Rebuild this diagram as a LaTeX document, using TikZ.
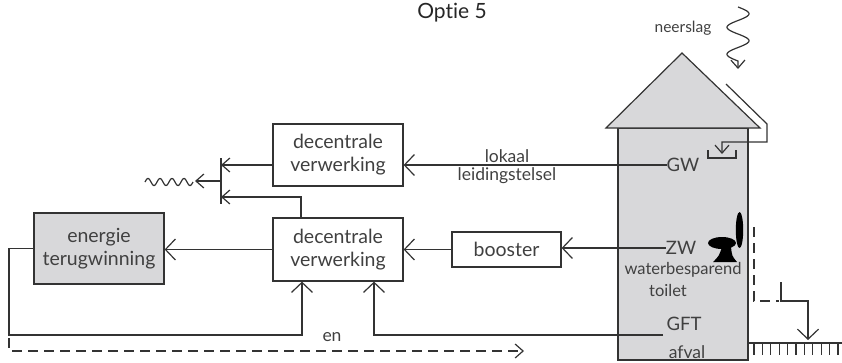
\documentclass[tikz,border=0pt]{standalone}
\usepackage{fontspec}
\setmainfont{Lato}[Ligatures={CommonOff}]
\usetikzlibrary{arrows.meta}
\definecolor{ink}{HTML}{333333}
\definecolor{txt}{HTML}{404040}
\definecolor{shade}{HTML}{D8D8DA}
\begin{document}
\begin{tikzpicture}[x=1pt,y=-1pt,
  flow/.style={draw=ink, line width=1.2pt},
  arr/.style={flow, -{Straight Barb[length=10pt,width=21pt,line width=1.2pt]}},
  smallarr/.style={flow, -{Straight Barb[length=8pt,width=14pt,line width=1.2pt]}},
  dasharr/.style={smallarr, dash pattern=on 10pt off 6pt},
  procbox/.style={draw=ink, line width=1.2pt, fill=white, minimum width=130pt,
    minimum height=62pt, inner sep=0pt, align=center, text=txt,
    font=\fontsize{19.5}{23}\selectfont},
  label/.style={inner sep=0pt, text=txt, align=center, font=\fontsize{17.5}{21}\selectfont},
  biglabel/.style={label, font=\fontsize{18.5}{21}\selectfont},
  house/.style={draw=ink, line width=1.2pt, fill=shade}
]
\useasboundingbox (0,0) rectangle (842,362);

% title
\node[inner sep=0pt, text=black!85, font=\fontsize{21}{24}\selectfont] (title) at (452,13) {Optie 5};

% house with roof
\filldraw[house] (618,128) rectangle (748,360);
\filldraw[house, line join=miter] (606,128) -- (682,53) -- (760,128) -- cycle;

% rain falling on the roof
\node[label, font=\fontsize{15.5}{18}\selectfont] (rain) at (683,28) {neerslag};
\draw[smallarr] plot[domain=0:2, samples=90, smooth] ({738+11*sin(\x*360)}, {7+\x*27}) -- (738,69);

% gutter collecting the rain water
\coordinate (gutA) at (726,84);
\coordinate (gutB) at (767,124);
\coordinate (gutC) at (767,142);
\coordinate (gutD) at (722,142);
\coordinate (gutE) at (722,154);
\draw[smallarr] (gutA) -- (gutB) -- (gutC) -- (gutD) -- (gutE);
\draw[flow] (708,150) -- (708,158) -- (736,158) -- (736,150);

% labels inside the house
\node[biglabel] (gw) at (683,165) {GW};
\node[biglabel] (zw) at (681,248) {ZW};
\node[label, font=\fontsize{16.5}{20}\selectfont] (wb) at (683,270) {waterbesparend};
\node[label, font=\fontsize{16.5}{20}\selectfont] (toilet) at (668,290) {toilet};
\node[biglabel] (gft) at (684,324) {GFT};
\node[label] (afval) at (687,352) {afval};

% toilet pictogram
\fill[black] (739.5,230) ellipse [x radius=3.7pt, y radius=18pt];
\fill[black] (722,243) ellipse [x radius=14pt, y radius=6pt];
\fill[black] (722,247) -- (731,247) .. controls (732,256) .. (737,262)
  -- (713,262) .. controls (719,256) .. (722,247) -- cycle;

% processing boxes
\node[procbox] (dvTop) at (338,155) {decentrale\\verwerking};
\node[procbox, minimum height=63pt] (dvBot) at (338,249.5) {decentrale\\verwerking};
\node[procbox, fill=shade, minimum height=71pt] (energie) at (99,248.5) {energie\\terugwinning};
\node[procbox, minimum width=109pt, minimum height=35pt] (booster) at (506.5,249.5) {booster};

% grey water line
\draw[arr] (gw.west) -- (gw.west -| dvTop.east);
\node[label, anchor=south] (lok) at (507,163) {lokaal};
\node[label, anchor=north] (leid) at (507,167) {leidingstelsel};

% black water line via the booster
\draw[arr] (zw.west) -- (zw.west -| booster.east);
\draw[arr] (booster.west) -- (booster.west -| dvBot.east);
\draw[arr] (dvBot.west) -- (dvBot.west -| energie.east);

% discharge to surface water
\coordinate (barT) at (221,158);
\coordinate (barB) at (221,204);
\coordinate (upT) at (301,197);
\coordinate (waveR) at (193,181);
\draw[flow] (barT) -- (barB);
\draw[smallarr] (gw.west -| dvTop.west) -- (gw.west -| barT);
\draw[smallarr] (dvBot.north -| upT) |- (upT -| barT);
\draw[smallarr] (waveR -| barT) -- (195,181);
\draw[flow] plot[domain=0:4, samples=90, smooth] ({145+\x*12}, {182-3.5*sin(\x*360)});

% return loops under the boxes
\coordinate (loopL) at (9,335);
\coordinate (inA) at (302,335);
\coordinate (inB) at (374,335);
\coordinate (gftL) at (663,335);
\draw[arr] (energie.west) -- (energie.west -| loopL) -- (loopL) -- (inA) -- (inA |- dvBot.south);
\draw[arr] (gftL) -- (inB) -- (inB |- dvBot.south);
\node[label] (en) at (332,337) {en};

% energy carried off (dashed)
\coordinate (dashS) at (9,338);
\coordinate (dashE) at (524,351);
\draw[dasharr] (dashS) |- (dashE);

% infiltration into the ground
\coordinate (infA) at (754,227);
\coordinate (infB) at (754,301);
\coordinate (infC) at (779,301);
\coordinate (infD) at (781,282);
\coordinate (infE) at (808,301);
\coordinate (infF) at (808,340);
\draw[flow, dash pattern=on 10pt off 6pt] (infA) -- (infB) -- (infC);
\draw[arr] (infD) -- (infD |- infE) -- (infE) -- (infF);

% ground surface
\draw[flow] (748,343) -- (842,343);
\foreach \k in {0,...,10} \draw[flow] ({754+8.4*\k},343) -- ({754+8.4*\k},355);
\end{tikzpicture}
\end{document}
